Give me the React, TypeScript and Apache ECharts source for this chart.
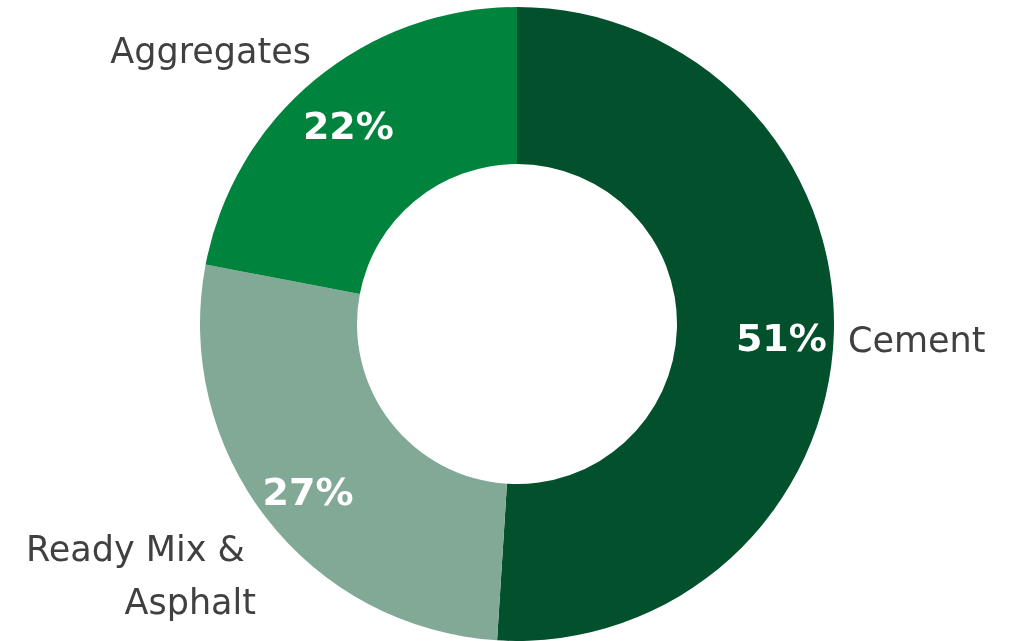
import React, { useEffect, useRef } from "react";
import * as echarts from "echarts";

const categories = ["Cement", "Ready Mix & Asphalt", "Aggregates"];
const shares = [51, 27, 22];
const colors = ["#03502D", "#81A996", "#00843D"];
const nameLines = ["Cement", "Ready Mix & \nAsphalt", "Aggregates"];
// label anchor placement (x, y, align) for the outside name labels
const nameAnchors: [number, number, "left" | "right"][] = [
  [848, 340, "left"],
  [256, 575, "right"],
  [311, 51, "right"],
];

export default function App() {
  const ref = useRef<HTMLDivElement>(null);
  useEffect(() => {
    if (!ref.current) return;
    const chart = echarts.init(ref.current, null, { renderer: "svg" });
    const data = categories.map((c, i) => ({
      name: c,
      value: shares[i],
      itemStyle: { color: colors[i] },
    }));
    chart.setOption({
      animation: false,
      series: [
        {
          type: "pie",
          center: [517, 324],
          radius: [160, 317],
          startAngle: 90,
          clockwise: true,
          data,
          label: {
            show: true,
            position: "outside",
            formatter: (p: any) => nameLines[p.dataIndex],
            fontFamily: "DejaVu Sans",
            fontSize: 35,
            color: "#404040",
            lineHeight: 53,
            overflow: "none",
            width: 400,
          },
          labelLine: { show: false },
          labelLayout: (p: any) => {
            const a = nameAnchors[p.dataIndex];
            return { x: a[0], y: a[1], align: a[2], verticalAlign: "middle" };
          },
          emphasis: { disabled: true },
        },
        {
          type: "pie",
          center: [517, 324],
          radius: [206, 317],
          startAngle: 90,
          clockwise: true,
          silent: true,
          data: categories.map((c, i) => ({
            name: c,
            value: shares[i],
            itemStyle: { color: "rgba(0,0,0,0)" },
          })),
          label: {
            show: true,
            position: "inside",
            formatter: (p: any) => `${shares[p.dataIndex]}%`,
            fontFamily: "DejaVu Sans",
            fontWeight: "bold",
            fontSize: 38,
            color: "#ffffff",
            offset: [0, 6],
          },
          labelLine: { show: false },
          emphasis: { disabled: true },
        },
      ],
    });
    return () => chart.dispose();
  }, []);
  return (
    <div
      ref={ref}
      style={{ position: "fixed", left: 0, top: 0, width: 1017, height: 641 }}
    />
  );
}
